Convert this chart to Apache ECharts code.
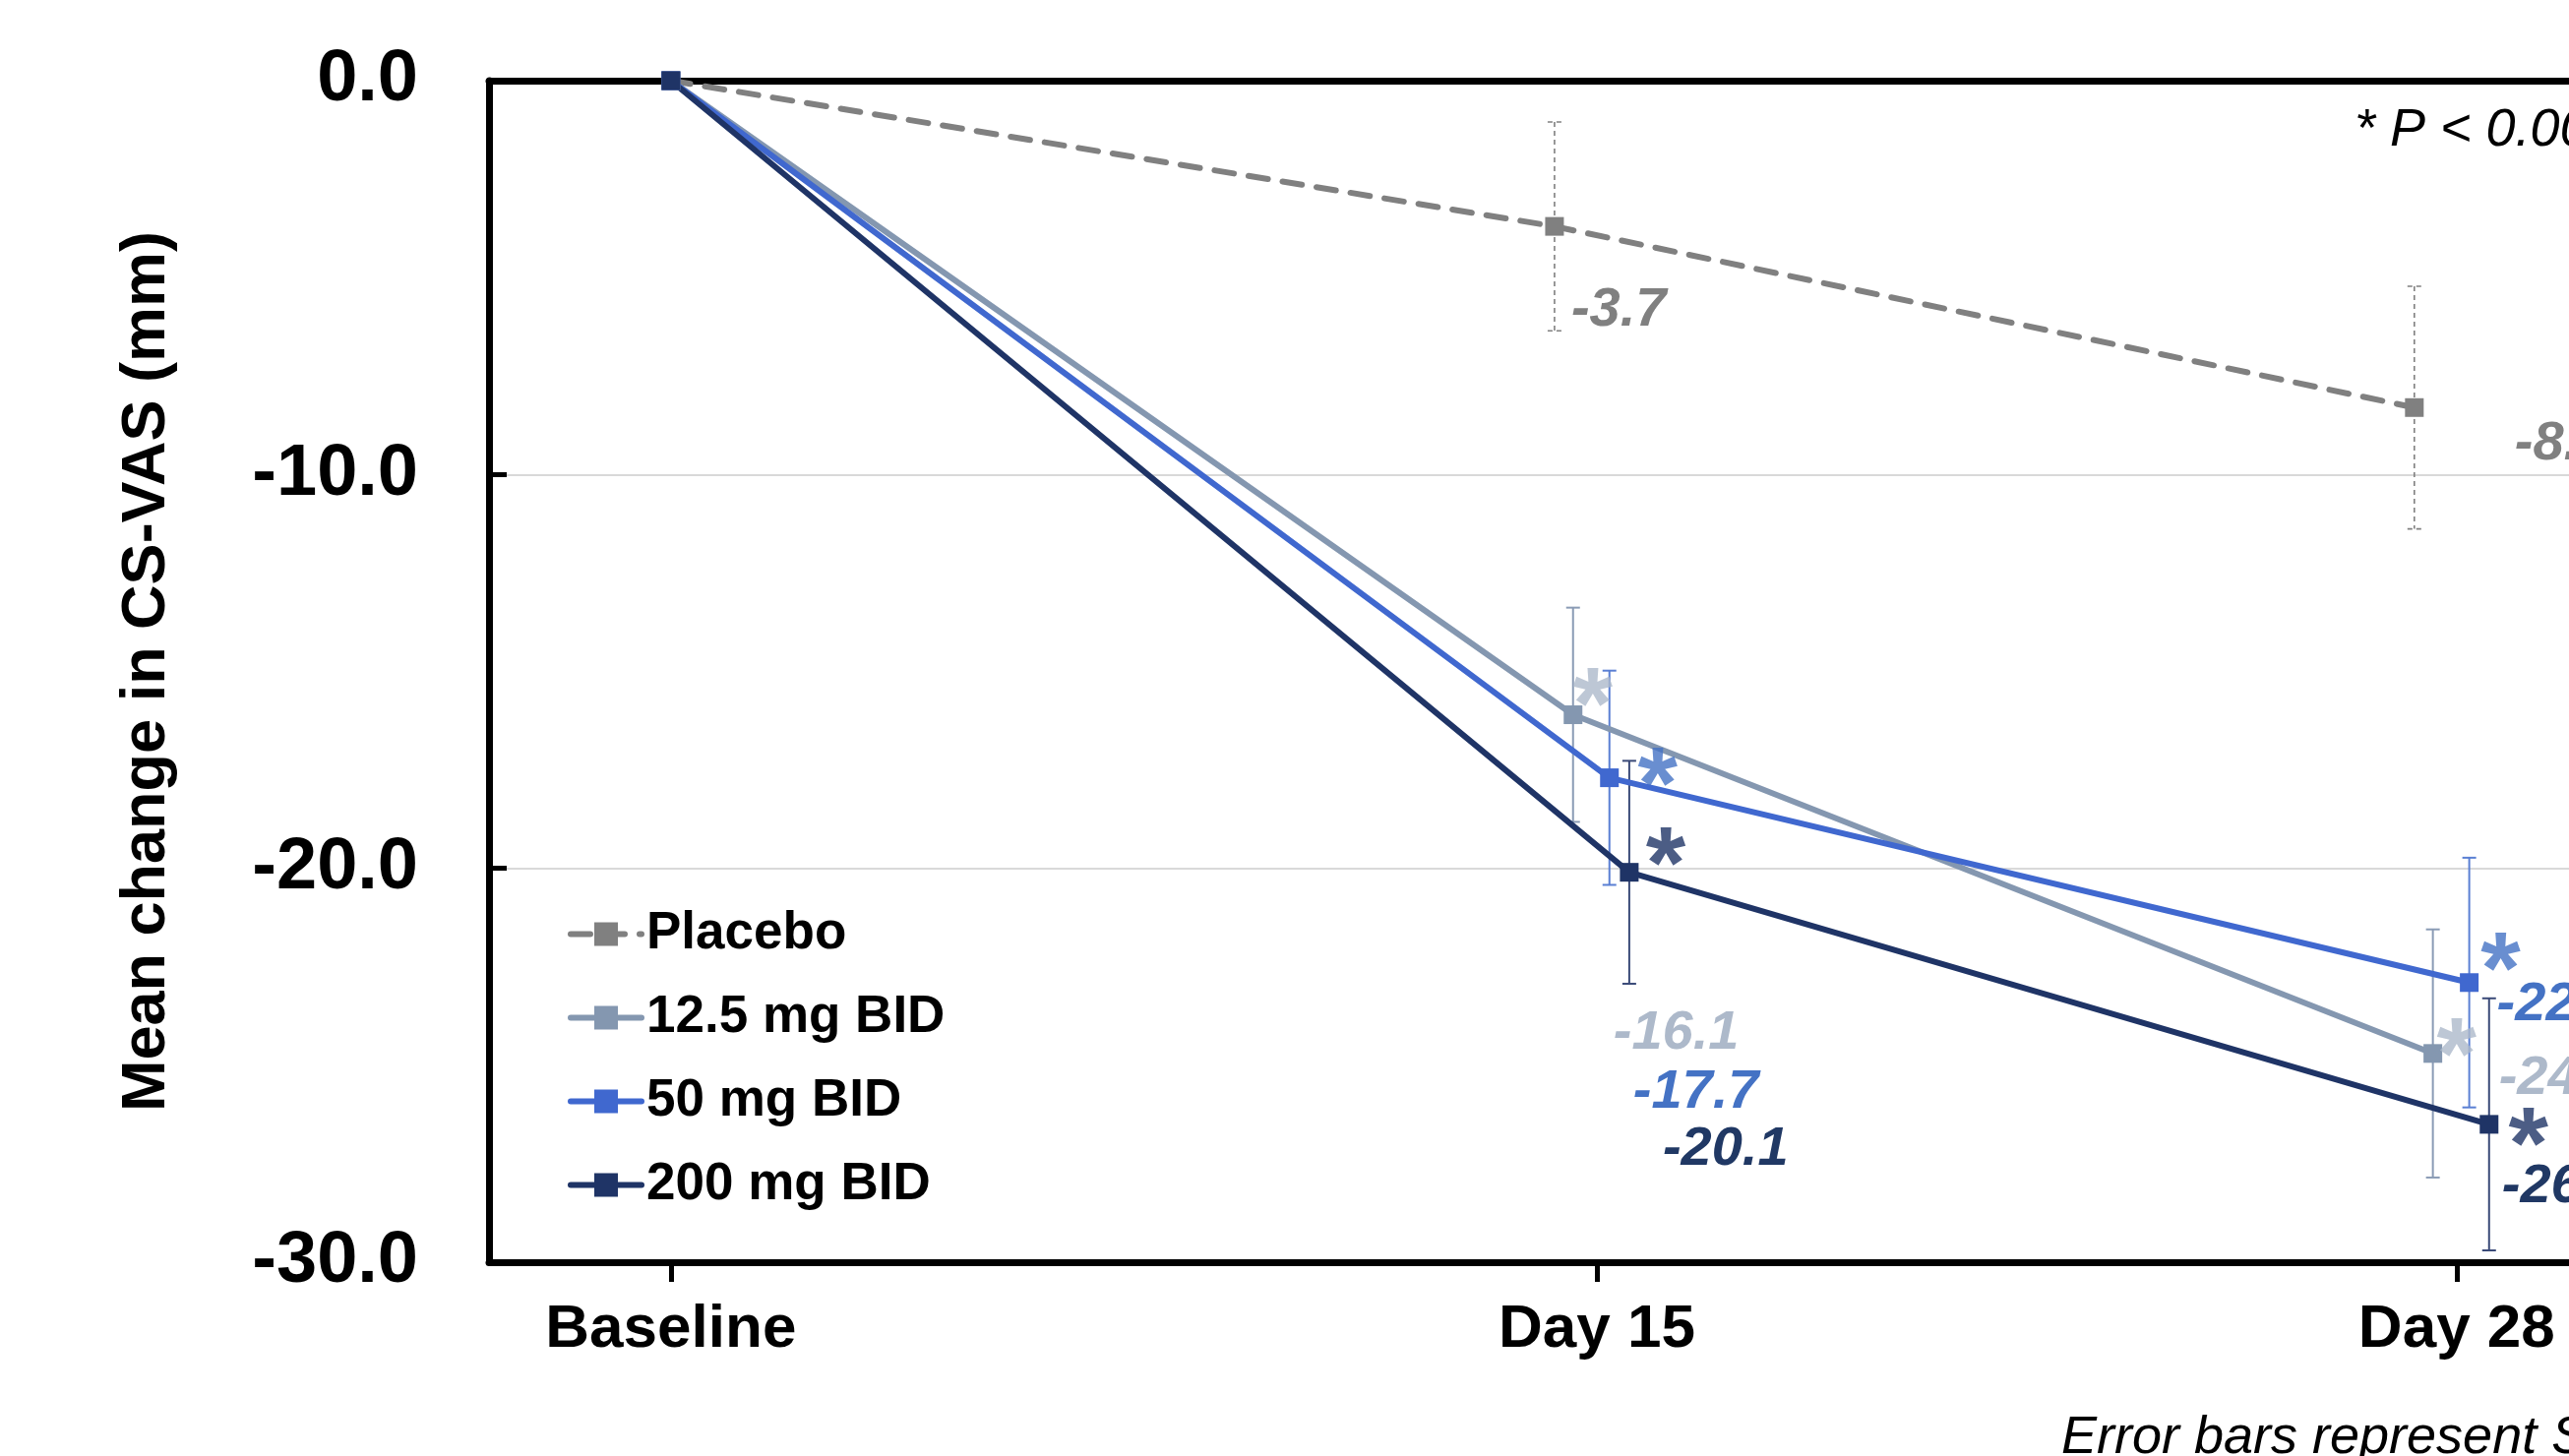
<!DOCTYPE html>
<html><head><meta charset="utf-8">
<script src="https://cdn.jsdelivr.net/npm/echarts@6/dist/echarts.min.js"></script>
<style>html,body{margin:0;padding:0;overflow:hidden;background:#fff;width:2611px;height:1480px}#chart{width:2800px;height:1480px}</style>
</head><body><div id="chart"></div>
<script>
// ---- data ----
const categories = ['Baseline', 'Day 15', 'Day 28'];
const visitDays = [1, 15, 28];
const seriesNames = ['Placebo', '12.5 mg BID', '50 mg BID', '200 mg BID'];
const placeboMean = [0, -3.7, -8.3];
const placeboSE = [0, 2.65, 3.08];
const mg12Mean = [0, -16.1, -24.7];
const mg12SE = [0, 2.72, 3.15];
const mg50Mean = [0, -17.7, -22.9];
const mg50SE = [0, 2.72, 3.17];
const mg200Mean = [0, -20.1, -26.5];
const mg200SE = [0, 2.83, 3.2];
const placeboSig = [false, false, false];
const mg12Sig = [false, true, true];
const mg50Sig = [false, true, true];
const mg200Sig = [false, true, true];
const pNote = '* P < 0.001';
const footNote = 'Error bars represent SEM';
const yAxisTitle = 'Mean change in CS-VAS (mm)';

// ---- styles ----
const FF = '"Liberation Sans", Arial, Helvetica, sans-serif';
const styles = [
  {color: '#808080', labelColor: '#808080', errColor: '#808080', starColor: '#808080', dashed: true, dodge: -0.64,
   labelOff: [null, [17, 85], [102, 37]], starOff: [null, null, null]},
  {color: '#8497b0', labelColor: '#adb9ca', errColor: '#8a9bb5', starColor: '#adb9ca', dashed: false, dodge: -0.36,
   labelOff: [null, [41, 324], [67, 26]], starOff: [null, [20, -27], [24, -15]]},
  {color: '#4068cf', labelColor: '#4472c4', errColor: '#5a7fd3', starColor: '#4472c4', dashed: false, dodge: 0.19,
   labelOff: [null, [24, 320], [28, 23]], starOff: [null, [49, -10], [32, -30]]},
  {color: '#1f3466', labelColor: '#203864', errColor: '#3a4a78', starColor: '#1f3466', dashed: false, dodge: 0.49,
   labelOff: [null, [34, 282], [13, 64]], starOff: [null, [37, -25], [40, 3]]}
];
const means = [placeboMean, mg12Mean, mg50Mean, mg200Mean];
const ses = [placeboSE, mg12SE, mg50SE, mg200SE];
const sigs = [placeboSig, mg12Sig, mg50Sig, mg200Sig];
const STAR_SIZE = 104;
const STAR_SHIFT = 23;

function xPos(s, i) { return visitDays[i] + (i === 0 ? 0 : styles[s].dodge); }

const series = [];
// error bars (below lines)
means.forEach((m, s) => {
  const st = styles[s];
  const data = [];
  m.forEach((v, i) => { if (ses[s][i] > 0) data.push([xPos(s, i), v - ses[s][i], v + ses[s][i]]); });
  series.push({
    type: 'custom', name: 'err-' + s, z: 1, silent: true,
    encode: {x: 0, y: [1, 2]},
    data: data,
    renderItem: function (params, api) {
      const x = api.value(0), lo = api.value(1), hi = api.value(2);
      const p1 = api.coord([x, hi]), p2 = api.coord([x, lo]);
      const cw = 7;
      const style = {stroke: st.errColor, lineWidth: st.dashed ? 1.6 : 2, lineDash: st.dashed ? [5, 4] : null, fill: null};
      return {type: 'group', children: [
        {type: 'line', shape: {x1: p1[0], y1: p1[1], x2: p2[0], y2: p2[1]}, style: style},
        {type: 'line', shape: {x1: p1[0] - cw, y1: p1[1], x2: p1[0] + cw, y2: p1[1]}, style: style},
        {type: 'line', shape: {x1: p2[0] - cw, y1: p2[1], x2: p2[0] + cw, y2: p2[1]}, style: style}
      ]};
    }
  });
});
// lines with value labels
means.forEach((m, s) => {
  const st = styles[s];
  series.push({
    type: 'line', name: seriesNames[s], z: 3,
    symbol: 'rect', symbolSize: 19,
    itemStyle: {color: st.color},
    lineStyle: {color: st.color, width: 6, type: st.dashed ? [20, 15] : 'solid', cap: 'round'},
    data: m.map((v, i) => ({
      value: [xPos(s, i), v],
      label: st.labelOff[i] ? {
        show: true, position: 'inside', align: 'left', verticalAlign: 'middle',
        offset: st.labelOff[i], formatter: v.toFixed(1),
        fontSize: 56, fontWeight: 'bold', fontStyle: 'italic', color: st.labelColor, fontFamily: FF
      } : {show: false}
    }))
  });
});
// significance asterisks
sigs.forEach((sg, s) => {
  const st = styles[s];
  const data = [];
  sg.forEach((f, i) => {
    if (f) data.push({
      value: [xPos(s, i), means[s][i]],
      label: {show: true, position: 'inside', align: 'center', verticalAlign: 'middle',
        offset: [st.starOff[i][0], st.starOff[i][1] + STAR_SHIFT], formatter: '*',
        fontSize: STAR_SIZE, fontWeight: 'bold', color: st.starColor, fontFamily: FF}
    });
  });
  series.push({type: 'scatter', name: 'sig-' + s, z: 4, silent: true, symbolSize: 0.01,
    itemStyle: {color: 'rgba(0,0,0,0)'}, data: data});
});

const chart = echarts.init(document.getElementById('chart'), null, {renderer: 'canvas'});
chart.setOption({
  animation: false,
  textStyle: {fontFamily: FF},
  grid: {left: 497, top: 82, width: 2201.5, height: 1201},
  legend: {
    data: seriesNames, orient: 'vertical', left: 572, top: 918,
    itemWidth: 72, itemHeight: 30, itemGap: 32, selectedMode: false,
    lineStyle: {width: 6},
    textStyle: {fontSize: 53, fontWeight: 'bold', color: '#000', fontFamily: FF}
  },
  xAxis: [{
    type: 'value', min: -1.75, max: 31,
    axisLine: {show: true, onZero: false, lineStyle: {color: '#000', width: 7}},
    axisTick: {show: true, customValues: visitDays, length: 20, lineStyle: {color: '#000', width: 5}},
    axisLabel: {customValues: visitDays, formatter: v => categories[visitDays.indexOf(v)],
      fontSize: 62, fontWeight: 'bold', color: '#000', margin: 38, fontFamily: FF},
    splitLine: {show: false}
  }, {
    type: 'value', position: 'top', min: -1.75, max: 31,
    axisLine: {show: true, onZero: false, lineStyle: {color: '#000', width: 7}},
    axisTick: {show: false}, axisLabel: {show: false}, splitLine: {show: false}
  }],
  yAxis: {
    type: 'value', min: -30, max: 0, interval: 10,
    name: yAxisTitle, nameLocation: 'middle', nameGap: 316, nameRotate: 90,
    nameTextStyle: {fontSize: 63, fontWeight: 'bold', color: '#000', fontFamily: FF},
    axisLine: {show: true, onZero: false, lineStyle: {color: '#000', width: 7}},
    axisTick: {show: true, inside: true, length: 18, lineStyle: {color: '#000', width: 5}},
    axisLabel: {formatter: v => v.toFixed(1), fontSize: 74, fontWeight: 'bold', color: '#000', margin: 72, fontFamily: FF},
    splitLine: {show: true, lineStyle: {color: '#d9d9d9', width: 2}}
  },
  graphic: [
    {type: 'text', x: 2393, y: 133, z: 10, style: {text: pNote, font: 'italic 54px ' + FF, fill: '#000', align: 'left', verticalAlign: 'middle'}},
    {type: 'text', x: 2095, y: 1462, z: 10, style: {text: footNote, font: 'italic 54px ' + FF, fill: '#000', align: 'left', verticalAlign: 'middle'}}
  ],
  series: series
});
</script></body></html>
